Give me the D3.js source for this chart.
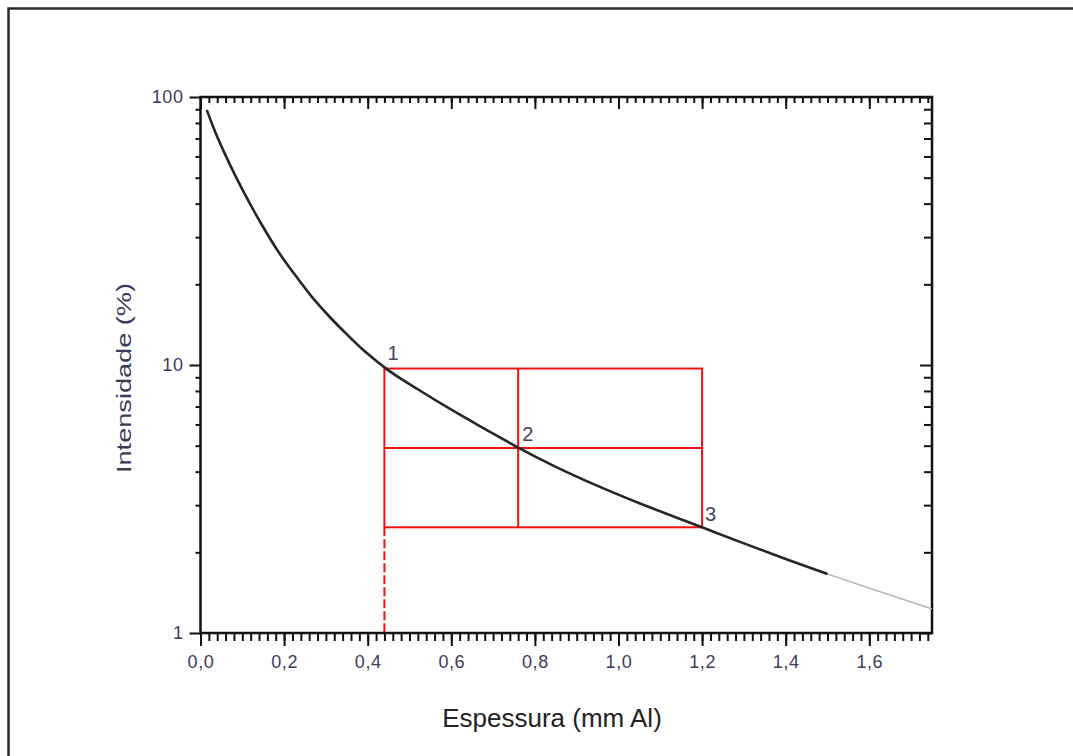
<!DOCTYPE html>
<html>
<head>
<meta charset="utf-8">
<script src="https://cdn.jsdelivr.net/npm/d3@7"></script>
<style>
  html, body { margin: 0; padding: 0; background: #fff; }
  svg { display: block; }
  text { font-family: "Liberation Sans", Arial, sans-serif; }
</style>
</head>
<body>
<script>
// Attenuation curve: aluminium thickness (mm) vs transmitted intensity (%)
const thickness = [0.015, 0.035, 0.067, 0.107, 0.147, 0.186, 0.226, 0.266, 0.306, 0.346, 0.386, 0.426, 0.44,
                   0.52, 0.60, 0.68, 0.76, 0.85, 0.95, 1.05, 1.20, 1.30, 1.40, 1.50];
const intensity = [89.4, 74.2, 57.4, 43.1, 33.3, 26.5, 21.7, 18.0, 15.3, 13.2, 11.5, 10.2, 9.8,
                   8.12, 6.81, 5.78, 4.92, 4.17, 3.54, 3.05, 2.48, 2.16, 1.89, 1.66];
// extrapolated tail beyond the measured range
const tailThickness = [1.50, 1.60, 1.75];
const tailIntensity = [1.66, 1.47, 1.23];

// half-value construction: points 1, 2, 3 and the box around them
const markThickness = [0.44, 0.76, 1.20];
const markIntensity = [9.7, 4.9, 2.48];
const markLabels = ["1", "2", "3"];

const xTicks = [0, 0.2, 0.4, 0.6, 0.8, 1.0, 1.2, 1.4, 1.6];
const yTicks = [1, 10, 100];

const W = 1073, H = 756;
const plot = { left: 200.5, right: 932, top: 97, bottom: 633 };

const svg = d3.select("body").append("svg").attr("width", W).attr("height", H);
svg.append("rect").attr("width", W).attr("height", H).attr("fill", "#fff");

// outer frame of the figure
svg.append("rect")
  .attr("x", 8.5).attr("y", 8.5).attr("width", W + 20).attr("height", H - 2)
  .attr("fill", "none").attr("stroke", "#2a2a2a").attr("stroke-width", 2.5);

const x = d3.scaleLinear().domain([0, 1.75]).range([plot.left, plot.right]);
const y = d3.scaleLog().domain([1, 100]).range([plot.bottom, plot.top]);

const fmt = d => d3.format(".1f")(d).replace(".", ",");
const labelColor = "#3c3c5a";

const minorX = d3.range(0, 1.7501, 0.02).map(v => +v.toFixed(2));
const minorY = [];
[1, 10].forEach(dec => { for (let k = 2; k <= 9; k++) minorY.push(dec * k); });

const axisStyle = g => {
  g.select(".domain").remove();
  g.selectAll("line").attr("stroke", "#111").attr("stroke-width", 2);
};

// bottom axis: outward ticks
svg.append("g").attr("transform", `translate(0,${plot.bottom})`)
  .call(d3.axisBottom(x).tickValues(minorX).tickSize(8).tickFormat(""))
  .call(axisStyle);
svg.append("g").attr("transform", `translate(0,${plot.bottom})`)
  .call(d3.axisBottom(x).tickValues(xTicks).tickSize(13).tickPadding(8).tickFormat(fmt))
  .call(axisStyle)
  .call(g => g.selectAll("text").attr("font-size", 18).attr("letter-spacing", 0.6)
    .attr("fill", labelColor).attr("dy", "0.8em"));

// top axis: inward ticks
svg.append("g").attr("transform", `translate(0,${plot.top})`)
  .call(d3.axisBottom(x).tickValues(minorX).tickSize(6).tickFormat(""))
  .call(axisStyle);
svg.append("g").attr("transform", `translate(0,${plot.top})`)
  .call(d3.axisBottom(x).tickValues(xTicks).tickSize(12).tickFormat(""))
  .call(axisStyle);

// left axis: outward ticks
svg.append("g").attr("transform", `translate(${plot.left},0)`)
  .call(d3.axisLeft(y).tickValues(minorY).tickSize(5).tickFormat(""))
  .call(axisStyle);
svg.append("g").attr("transform", `translate(${plot.left},0)`)
  .call(d3.axisLeft(y).tickValues(yTicks).tickSize(11).tickPadding(6).tickFormat(d3.format("d")))
  .call(axisStyle)
  .call(g => g.selectAll("text").attr("font-size", 18).attr("letter-spacing", 0.6).attr("fill", labelColor));

// right axis: inward ticks
svg.append("g").attr("transform", `translate(${plot.right},0)`)
  .call(d3.axisLeft(y).tickValues(minorY).tickSize(8).tickFormat(""))
  .call(axisStyle);
svg.append("g").attr("transform", `translate(${plot.right},0)`)
  .call(d3.axisLeft(y).tickValues(yTicks).tickSize(12).tickFormat(""))
  .call(axisStyle);

// plot frame
svg.append("rect")
  .attr("x", plot.left).attr("y", plot.top)
  .attr("width", plot.right - plot.left).attr("height", plot.bottom - plot.top)
  .attr("fill", "none").attr("stroke", "#111").attr("stroke-width", 2.5);

// red construction lines
const red = "#f01010";
const [x1, x2, x3] = markThickness.map(x);
const [y1, y2, y3] = markIntensity.map(y);
const redG = svg.append("g").attr("stroke", red).attr("stroke-width", 2).attr("fill", "none");
redG.append("rect").attr("x", x1).attr("y", y1).attr("width", x3 - x1).attr("height", y3 - y1);
redG.append("line").attr("x1", x1).attr("x2", x3).attr("y1", y2).attr("y2", y2);
redG.append("line").attr("x1", x2).attr("x2", x2).attr("y1", y1).attr("y2", y3);
redG.append("line").attr("x1", x1).attr("x2", x1).attr("y1", y3).attr("y2", y(1))
  .attr("stroke-dasharray", "9,3");

// attenuation curve
const line = d3.line().x(d => x(d[0])).y(d => y(d[1])).curve(d3.curveMonotoneX);
svg.append("path")
  .datum(tailThickness.map((t, i) => [t, tailIntensity[i]]))
  .attr("d", line).attr("fill", "none").attr("stroke", "#b0b0b0").attr("stroke-width", 1.5);
svg.append("path")
  .datum(thickness.map((t, i) => [t, intensity[i]]))
  .attr("d", line).attr("fill", "none").attr("stroke", "#262626").attr("stroke-width", 2.6);

// point labels
const labelDx = [0, 1, 0];
const labelDy = [-9, -7, -6];
svg.selectAll(".pt").data(markLabels).join("text")
  .attr("class", "pt")
  .attr("x", (d, i) => x(markThickness[i]) + 3 + labelDx[i])
  .attr("y", (d, i) => y(markIntensity[i]) + labelDy[i])
  .attr("font-size", 20).attr("fill", "#4a4060")
  .text(d => d);

// axis titles
svg.append("text")
  .attr("transform", `translate(131,${(plot.top + plot.bottom) / 2 + 13}) rotate(-90)`)
  .attr("text-anchor", "middle").attr("font-size", 21).attr("fill", "#3a3a55")
  .attr("textLength", 190).attr("lengthAdjust", "spacingAndGlyphs")
  .text("Intensidade (%)");
svg.append("text")
  .attr("x", 552).attr("y", 727)
  .attr("text-anchor", "middle").attr("font-size", 26).attr("fill", "#222")
  .text("Espessura (mm Al)");
</script>
</body>
</html>
